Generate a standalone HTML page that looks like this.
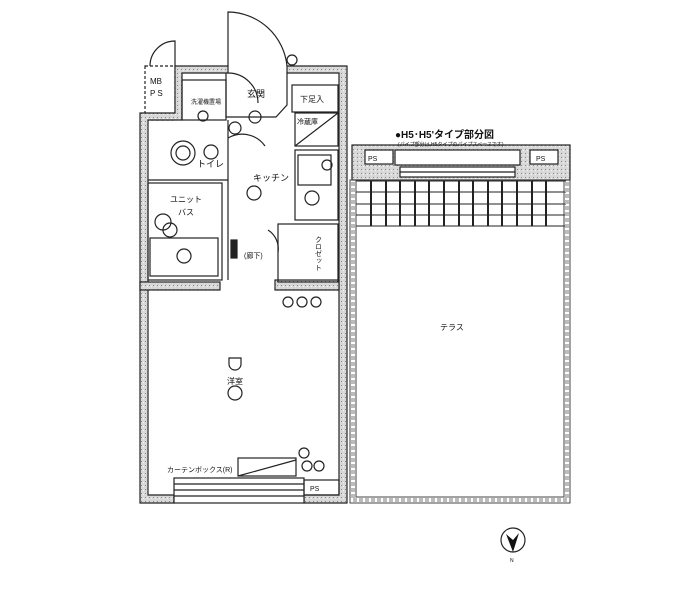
<!DOCTYPE html>
<html><head><meta charset="utf-8"><style>
html,body{margin:0;padding:0;background:#fff;}
svg{display:block;}
text{font-family:"Liberation Sans","Noto Sans CJK JP",sans-serif;fill:#111;}
</style></head><body>
<svg width="699" height="600" viewBox="0 0 699 600" xmlns="http://www.w3.org/2000/svg">
<defs>
<pattern id="sp" width="4" height="4" patternUnits="userSpaceOnUse">
<rect width="4" height="4" fill="#d8d8d8"/><rect x="1" y="1" width="1" height="1" fill="#888"/><rect x="3" y="2" width="1" height="1" fill="#f4f4f4"/>
</pattern>
</defs>
<g stroke="#222" stroke-width="1.2" fill="none">
<rect x="145" y="66" width="30" height="54" stroke-dasharray="3,2"/>
<path d="M150 66 A25 25 0 0 1 175 41 L175 66"/>
<path d="M228 66 L228 12 A60 60 0 0 1 287 66"/>
<circle cx="292" cy="60" r="5"/>
<path d="M175 66 H228 V73 H182 V120 H148 V495 H174 V503 H140 V113 H175 Z" fill="url(#sp)"/>
<path d="M287 66 H347 V503 H304 V495 H339 V73 H287 Z" fill="url(#sp)"/>
<rect x="140" y="282" width="80" height="8" fill="url(#sp)"/>
<rect x="275" y="280" width="64" height="10" fill="url(#sp)"/>
<rect x="174" y="478" width="130" height="25" fill="#fff"/>
<line x1="174" y1="484" x2="304" y2="484"/><line x1="174" y1="490" x2="304" y2="490"/><line x1="174" y1="496" x2="304" y2="496"/>
<rect x="238" y="458" width="58" height="18"/><line x1="238" y1="476" x2="296" y2="460"/>
<rect x="304" y="480" width="35" height="15"/>
<rect x="182" y="80" width="44" height="40"/>
<path d="M226 73 V117 H276 L287 105 V73"/>
<rect x="292" y="85" width="46" height="27"/>
<rect x="295" y="113" width="43" height="33"/>
<line x1="295" y1="146" x2="338" y2="113"/>
<rect x="295" y="150" width="43" height="70"/>
<rect x="298" y="155" width="33" height="30"/>
<rect x="278" y="224" width="60" height="58"/>
<line x1="148" y1="180" x2="228" y2="180"/>
<line x1="228" y1="120" x2="228" y2="280"/>
<rect x="148" y="183" width="74" height="97"/>
<rect x="150" y="238" width="68" height="38"/>
<circle cx="183" cy="153" r="12"/><circle cx="183" cy="153" r="7"/>
<circle cx="211" cy="152" r="7"/>
<circle cx="184" cy="256" r="7"/>
<circle cx="254" cy="193" r="7"/>
<circle cx="255" cy="117" r="6"/><circle cx="203" cy="116" r="5"/><circle cx="235" cy="128" r="6"/>
<circle cx="312" cy="198" r="7"/><circle cx="327" cy="165" r="5"/>
<circle cx="163" cy="222" r="8"/><circle cx="170" cy="230" r="7"/>
<circle cx="235" cy="393" r="7"/><path d="M229 358 h12 v6 a6 6 0 0 1 -12 0 Z"/>
<circle cx="288" cy="302" r="5"/><circle cx="302" cy="302" r="5"/><circle cx="316" cy="302" r="5"/>
<circle cx="304" cy="453" r="5"/><circle cx="307" cy="466" r="5"/><circle cx="319" cy="466" r="5"/>
<path d="M228 138 A28 28 0 0 1 265 146"/>
<path d="M228 73 A30 30 0 0 1 258 103"/>
<path d="M268 230 A22 22 0 0 1 278 252"/>
<rect x="231" y="240" width="6" height="18" fill="#222"/>
<rect x="352" y="145" width="218" height="35" fill="url(#sp)"/>
<rect x="365" y="150" width="28" height="14" fill="#fff"/>
<rect x="530" y="150" width="28" height="14" fill="#fff"/>
<rect x="395" y="150" width="125" height="15" fill="#fff"/>
<rect x="400" y="167" width="115" height="10" fill="#fff"/>
<line x1="400" y1="172" x2="515" y2="172"/>
<g stroke-width="1">
<line x1="356" y1="181" x2="566" y2="181"/><line x1="356" y1="192" x2="566" y2="192"/><line x1="356" y1="204" x2="566" y2="204"/><line x1="356" y1="215" x2="566" y2="215"/><line x1="356" y1="226" x2="566" y2="226"/>
<g stroke-width="2">
<line x1="371" y1="181" x2="371" y2="226"/><line x1="386" y1="181" x2="386" y2="226"/><line x1="400" y1="181" x2="400" y2="226"/><line x1="415" y1="181" x2="415" y2="226"/><line x1="429" y1="181" x2="429" y2="226"/><line x1="444" y1="181" x2="444" y2="226"/><line x1="459" y1="181" x2="459" y2="226"/><line x1="473" y1="181" x2="473" y2="226"/><line x1="488" y1="181" x2="488" y2="226"/><line x1="502" y1="181" x2="502" y2="226"/><line x1="517" y1="181" x2="517" y2="226"/><line x1="532" y1="181" x2="532" y2="226"/><line x1="546" y1="181" x2="546" y2="226"/>
</g>
</g>
<g stroke="#444" stroke-width="1">
<rect x="350" y="180" width="220" height="323" fill="none"/>
<rect x="356" y="180" width="208" height="317" fill="none"/>
</g>
<g stroke="#bbb" stroke-width="4" stroke-dasharray="4,2">
<line x1="353" y1="182" x2="353" y2="500"/>
<line x1="567" y1="182" x2="567" y2="500"/>
<line x1="353" y1="500" x2="567" y2="500"/>
</g>
<circle cx="513" cy="540" r="12"/>
</g>
<path d="M506 534 L513 552 L519 533 L513 540 Z" fill="#111"/>
<g font-size="8">
<text x="150" y="84">MB</text><text x="150" y="96">P S</text>
<text x="247" y="97" font-size="9">玄関</text>
<text x="300" y="102">下足入</text>
<text x="297" y="124" font-size="7">冷蔵庫</text>
<text x="191" y="104" font-size="6">洗濯機置場</text>
<text x="197" y="167" font-size="9">トイレ</text>
<text x="253" y="181" font-size="9">キッチン</text>
<text x="170" y="202" font-size="8">ユニット</text>
<text x="178" y="215" font-size="8">バス</text>
<text x="244" y="258" font-size="7">(廊下)</text>
<text x="227" y="384" font-size="8">洋室</text>
<text x="167" y="472" font-size="7">カーテンボックス(R)</text>
<text x="310" y="491" font-size="7">PS</text>
<text x="368" y="161" font-size="7">PS</text>
<text x="536" y="161" font-size="7">PS</text>
<text x="440" y="330" font-size="8">テラス</text>
<text x="395" y="138" font-size="10" font-weight="bold">●H5･H5'タイプ部分図</text>
<text x="398" y="146" font-size="5">(パイプ部分は,H5タイプのパイプスペースです)</text>
<text x="510" y="562" font-size="5">N</text>
<text x="318" y="236" font-size="7" writing-mode="tb">クロゼット</text>
</g>
</svg>
</body></html>
